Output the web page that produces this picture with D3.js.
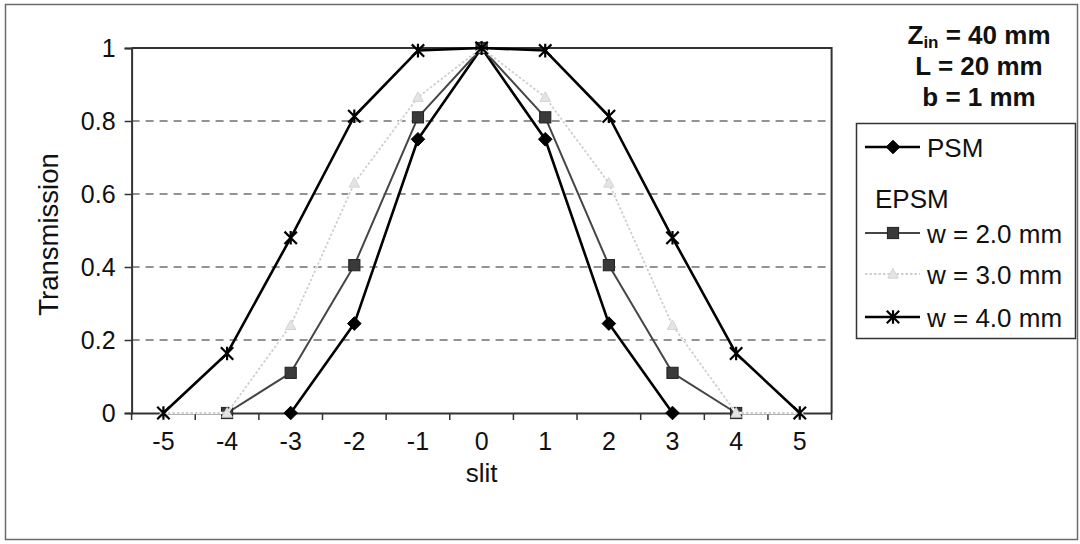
<!DOCTYPE html>
<html>
<head>
<meta charset="utf-8">
<script src="https://cdn.jsdelivr.net/npm/d3@7"></script>
<style>
  html, body { margin: 0; padding: 0; background: #fff; }
  svg { display: block; }
  text { font-family: "Liberation Sans", Arial, Helvetica, sans-serif; fill: #111; }
</style>
</head>
<body>
<svg id="chart" width="1080" height="544"></svg>
<script>
// Slit positions along the x axis
const slits = [-5, -4, -3, -2, -1, 0, 1, 2, 3, 4, 5];

// Transmission per slit (null = no point)
const psm   = [null, null, 0, 0.245, 0.75, 1, 0.75, 0.245, 0, null, null];
const epsm2 = [null, 0, 0.11, 0.405, 0.81, 1, 0.81, 0.405, 0.11, 0, null];
const epsm3 = [0, 0, 0.24, 0.63, 0.865, 1, 0.865, 0.63, 0.24, 0, 0];
const epsm4 = [0, 0.163, 0.48, 0.813, 0.993, 1, 0.993, 0.813, 0.48, 0.163, 0];

// Axis ticks
const yTicks = [0, 0.2, 0.4, 0.6, 0.8, 1];
const yTickLabels = ["0", "0.2", "0.4", "0.6", "0.8", "1"];
const xTickLabels = ["-5", "-4", "-3", "-2", "-1", "0", "1", "2", "3", "4", "5"];

// Parameter block and legend text
const paramLines = [["Z", "in", " = 40 mm"], ["L = 20 mm"], ["b = 1 mm"]];
const legendLabels = ["PSM", "EPSM", "w = 2.0 mm", "w = 3.0 mm", "w = 4.0 mm"];

const svg = d3.select("#chart");
const plot = { left: 131.6, right: 831.6, top: 48, bottom: 413 };

const x = d3.scaleBand().domain(slits).range([plot.left, plot.right]).padding(0);
const xc = v => x(v) + x.bandwidth() / 2;
const y = d3.scaleLinear().domain([0, 1]).range([plot.bottom, plot.top]);

// Outer chart frame
svg.append("rect")
  .attr("x", 5.5).attr("y", 4.5).attr("width", 1072).attr("height", 535)
  .attr("fill", "none").attr("stroke", "#6a6a6a").attr("stroke-width", 1.5);

// Horizontal dashed gridlines
svg.append("g").selectAll("line")
  .data(yTicks.filter(t => t > 0 && t < 1))
  .join("line")
  .attr("x1", plot.left).attr("x2", plot.right)
  .attr("y1", d => y(d)).attr("y2", d => y(d))
  .attr("stroke", "#707070").attr("stroke-width", 1.4)
  .attr("stroke-dasharray", "8,6");

// Plot frame: top and right edges
svg.append("path")
  .attr("d", `M${plot.left},${y(1)}H${plot.right}V${plot.bottom}`)
  .attr("fill", "none").attr("stroke", "#333").attr("stroke-width", 2);

// Y axis
const yAxis = d3.axisLeft(y).tickValues(yTicks).tickSize(7).tickPadding(9)
  .tickFormat((d, i) => yTickLabels[i]);
const gy = svg.append("g").attr("transform", `translate(${plot.left},0)`).call(yAxis);
gy.select(".domain").attr("stroke", "#333").attr("stroke-width", 2);
gy.selectAll(".tick line").attr("stroke", "#333").attr("stroke-width", 1.5);
gy.selectAll(".tick text").attr("font-size", 25).attr("fill", "#111")
  .attr("font-family", "Liberation Sans, Arial, sans-serif").attr("dy", "0.35em");

// X axis: tick marks on category boundaries, labels at category centres
const xAxis = d3.axisBottom(x).tickSize(0).tickPadding(19)
  .tickFormat((d, i) => xTickLabels[i]);
const gx = svg.append("g").attr("transform", `translate(0,${plot.bottom})`).call(xAxis);
gx.select(".domain").attr("stroke", "#333").attr("stroke-width", 2);
gx.selectAll(".tick text").attr("font-size", 25).attr("fill", "#111")
  .attr("font-family", "Liberation Sans, Arial, sans-serif");
gx.append("g").selectAll("line")
  .data(d3.range(slits.length + 1))
  .join("line")
  .attr("x1", i => plot.left + i * x.bandwidth())
  .attr("x2", i => plot.left + i * x.bandwidth())
  .attr("y1", 0).attr("y2", 7)
  .attr("stroke", "#333").attr("stroke-width", 1.5);

// Axis titles
svg.append("text")
  .attr("x", xc(0)).attr("y", 482).attr("text-anchor", "middle")
  .attr("font-size", 26).text("slit");
svg.append("text")
  .attr("transform", `translate(58,${(plot.top + plot.bottom) / 2 + 4}) rotate(-90)`)
  .attr("text-anchor", "middle").attr("font-size", 27.5).text("Transmission");

// Marker shapes
const markers = {
  diamond: (g, s) => g.append("path").attr("d", `M0,${-s}L${s},0L0,${s}L${-s},0Z`)
    .attr("fill", "#000").attr("stroke", "#000").attr("stroke-width", 1),
  square: (g, s) => g.append("rect").attr("x", -s).attr("y", -s)
    .attr("width", 2 * s).attr("height", 2 * s)
    .attr("fill", "#3a3a3a").attr("stroke", "#222").attr("stroke-width", 1),
  triangle: (g, s) => g.append("path")
    .attr("d", `M0,${-s}L${s * 0.95},${s * 0.75}L${-s * 0.95},${s * 0.75}Z`)
    .attr("fill", "#e4e4e4").attr("stroke", "#d4d4d4").attr("stroke-width", 1),
  star: (g, s) => g.append("path")
    .attr("d", `M${-s},${-s}L${s},${s}M${-s},${s}L${s},${-s}M0,${-s * 1.1}L0,${s * 1.1}`)
    .attr("fill", "none").attr("stroke", "#000").attr("stroke-width", 2.2)
};

// The w = 3.0 mm series is a pale dotted line on a white underlay
const series = [
  { values: psm,   stroke: "#000",    width: 2.6, marker: "diamond",  size: 6.8, dash: null, under: false },
  { values: epsm2, stroke: "#454545", width: 2.0, marker: "square",   size: 5.6, dash: null, under: false },
  { values: epsm3, stroke: "#cfcfcf", width: 1.8, marker: "triangle", size: 5.5, dash: "2.5,2", under: true },
  { values: epsm4, stroke: "#000",    width: 2.6, marker: "star",     size: 6.2, dash: null, under: false }
];

const line = d3.line()
  .defined(d => d.v !== null)
  .x(d => xc(d.s))
  .y(d => y(d.v));

series.forEach(sr => {
  const pts = slits.map((s, i) => ({ s, v: sr.values[i] }));
  if (sr.under) {
    svg.append("path").datum(pts)
      .attr("d", line).attr("fill", "none")
      .attr("stroke", "#fff").attr("stroke-width", 2.6);
  }
  svg.append("path").datum(pts)
    .attr("d", line).attr("fill", "none")
    .attr("stroke", sr.stroke).attr("stroke-width", sr.width)
    .attr("stroke-dasharray", sr.dash)
    .attr("stroke-linejoin", "round");
  svg.append("g").selectAll("g")
    .data(pts.filter(d => d.v !== null))
    .join("g")
    .attr("transform", d => `translate(${xc(d.s)},${y(d.v)})`)
    .each(function () { markers[sr.marker](d3.select(this), sr.size); });
});

// Parameter block (top right)
const params = svg.append("g");
const paramY = [44, 75, 106];
paramLines.forEach((parts, i) => {
  const t = params.append("text")
    .attr("x", 979).attr("y", paramY[i]).attr("text-anchor", "middle")
    .attr("font-size", 26).attr("font-weight", "bold");
  if (parts.length === 3) {
    t.append("tspan").text(parts[0]);
    t.append("tspan").attr("font-size", 17).attr("dy", 4).text(parts[1]);
    t.append("tspan").attr("dy", -4).text(parts[2]);
  } else {
    t.text(parts[0]);
  }
});

// Legend
const legend = svg.append("g");
legend.append("rect")
  .attr("x", 856.5).attr("y", 123.5).attr("width", 219).attr("height", 215)
  .attr("fill", "#fff").attr("stroke", "#333").attr("stroke-width", 1.5);

const legendRows = [
  { label: legendLabels[0], y: 147, sr: series[0] },
  { label: legendLabels[1], y: 198, sr: null },
  { label: legendLabels[2], y: 233, sr: series[1] },
  { label: legendLabels[3], y: 274, sr: series[2] },
  { label: legendLabels[4], y: 317, sr: series[3] }
];
legendRows.forEach(row => {
  if (row.sr) {
    legend.append("line")
      .attr("x1", 865).attr("x2", 920).attr("y1", row.y).attr("y2", row.y)
      .attr("stroke", row.sr.stroke).attr("stroke-width", row.sr.width)
      .attr("stroke-dasharray", row.sr.dash);
    const g = legend.append("g").attr("transform", `translate(893,${row.y})`);
    markers[row.sr.marker](g, row.sr.size);
    legend.append("text").attr("x", 927).attr("y", row.y + 9.5)
      .attr("font-size", 26).text(row.label);
  } else {
    legend.append("text").attr("x", 875).attr("y", row.y + 9.5)
      .attr("font-size", 26).text(row.label);
  }
});
</script>
</body>
</html>
